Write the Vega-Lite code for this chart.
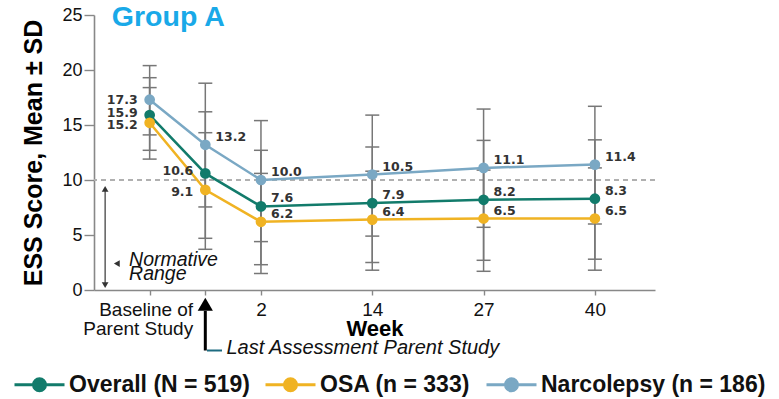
{
  "$schema": "https://vega.github.io/schema/vega-lite/v6.json",
  "width": 561,
  "height": 275,
  "autosize": {"type": "none"},
  "padding": {"left": 94, "top": 15, "right": 124, "bottom": 109},
  "background": "white",
  "config": {
    "view": {"stroke": null},
    "font": "Liberation Sans",
    "axis": {"grid": false, "domainColor": "#888", "tickColor": "#888", "domainWidth": 1.6, "tickWidth": 1.4, "labelColor": "#111", "titleColor": "#000", "labelFont": "Liberation Sans", "titleFont": "Liberation Sans"}
  },
  "data": {"values": [
    {"group": "Overall (N = 519)", "slot": 1, "mean": 15.9, "lo": 12.7, "hi": 19.3},
    {"group": "Overall (N = 519)", "slot": 2, "mean": 10.6, "lo": 4.7, "hi": 16.2},
    {"group": "Overall (N = 519)", "slot": 3, "mean": 7.6, "lo": 2.3, "hi": 12.7},
    {"group": "Overall (N = 519)", "slot": 5, "mean": 7.9, "lo": 2.5, "hi": 13.0},
    {"group": "Overall (N = 519)", "slot": 7, "mean": 8.2, "lo": 2.7, "hi": 13.6},
    {"group": "Overall (N = 519)", "slot": 9, "mean": 8.3, "lo": 2.8, "hi": 13.65},
    {"group": "OSA (n = 333)", "slot": 1, "mean": 15.2, "lo": 11.9, "hi": 18.4},
    {"group": "OSA (n = 333)", "slot": 2, "mean": 9.1, "lo": 3.7, "hi": 14.3},
    {"group": "OSA (n = 333)", "slot": 3, "mean": 6.2, "lo": 1.5, "hi": 10.6},
    {"group": "OSA (n = 333)", "slot": 5, "mean": 6.4, "lo": 1.8, "hi": 10.8},
    {"group": "OSA (n = 333)", "slot": 7, "mean": 6.5, "lo": 1.7, "hi": 10.9},
    {"group": "OSA (n = 333)", "slot": 9, "mean": 6.5, "lo": 1.8, "hi": 11.1},
    {"group": "Narcolepsy (n = 186)", "slot": 1, "mean": 17.3, "lo": 14.1, "hi": 20.4},
    {"group": "Narcolepsy (n = 186)", "slot": 2, "mean": 13.2, "lo": 7.55, "hi": 18.8},
    {"group": "Narcolepsy (n = 186)", "slot": 3, "mean": 10.0, "lo": 4.4, "hi": 15.4},
    {"group": "Narcolepsy (n = 186)", "slot": 5, "mean": 10.5, "lo": 4.9, "hi": 15.9},
    {"group": "Narcolepsy (n = 186)", "slot": 7, "mean": 11.1, "lo": 5.7, "hi": 16.45},
    {"group": "Narcolepsy (n = 186)", "slot": 9, "mean": 11.4, "lo": 6.0, "hi": 16.7}
  ]},
  "encoding": {
    "x": {
      "field": "slot", "type": "quantitative",
      "scale": {"domain": [0, 10.08], "nice": false, "zero": false},
      "axis": {
        "values": [1, 2, 3, 5, 7, 9],
        "labelExpr": "datum.value == 1 ? ['Baseline of', 'Parent Study'] : datum.value == 3 ? '2' : datum.value == 5 ? '14' : datum.value == 7 ? '27' : datum.value == 9 ? '40' : ''",
        "labelAlign": {"condition": {"test": "datum.value == 1", "value": "right"}, "value": "center"},
        "labelOffset": {"condition": {"test": "datum.value == 1", "value": 43}, "value": 0},
        "labelFontSize": 19, "labelLineHeight": 19, "labelPadding": 5, "tickSize": 5,
        "labelOverlap": false, "labelBound": false, "labelFlush": false,
        "title": "Week", "titleFontSize": 22, "titleFontWeight": "bold", "titleY": 38, "titleBaseline": "middle"
      }
    },
    "y": {
      "field": "mean", "type": "quantitative",
      "scale": {"domain": [0, 25], "nice": false, "zero": true},
      "axis": {"values": [0, 5, 10, 15, 20, 25], "labelFontSize": 18, "tickSize": 10, "labelPadding": 2, "title": "ESS Score, Mean ± SD", "titleFontSize": 25, "titleFontWeight": "bold", "titleX": -61, "titleBaseline": "middle"}
    }
  },
  "layer": [
    {
      "mark": {"type": "rule", "strokeDash": [5, 4], "color": "#b0b0b0", "strokeWidth": 1.3},
      "encoding": {"y": {"datum": 10, "type": "quantitative", "title": "ESS Score, Mean ± SD"}, "x": null}
    },
    {
      "mark": {"type": "rule", "color": "#777", "strokeWidth": 1.5},
      "encoding": {"y": {"field": "lo", "type": "quantitative", "title": "ESS Score, Mean ± SD"}, "y2": {"field": "hi"}}
    },
    {
      "mark": {"type": "tick", "orient": "horizontal", "color": "#777", "size": 14, "thickness": 1.5, "opacity": 1},
      "encoding": {"y": {"field": "lo", "type": "quantitative", "title": "ESS Score, Mean ± SD"}}
    },
    {
      "mark": {"type": "tick", "orient": "horizontal", "color": "#777", "size": 14, "thickness": 1.5, "opacity": 1},
      "encoding": {"y": {"field": "hi", "type": "quantitative", "title": "ESS Score, Mean ± SD"}}
    },
    {
      "mark": {"type": "line", "strokeWidth": 2.5},
      "encoding": {
        "color": {
          "field": "group", "type": "nominal",
          "scale": {"domain": ["Overall (N = 519)", "OSA (n = 333)", "Narcolepsy (n = 186)"], "range": ["#127b6b", "#f0b323", "#7aa8c4"]},
          "legend": {
            "orient": "none", "legendX": -81, "legendY": 343, "direction": "horizontal", "title": null,
            "symbolType": "M-1,0L1,0M0.24,0A0.24,0.24,0,1,1,-0.24,0A0.24,0.24,0,1,1,0.24,0Z",
            "symbolSize": 2500, "symbolStrokeWidth": 3, "labelFontSize": 23, "labelFontWeight": "bold", "labelFont": "Liberation Sans", "labelColor": "#111",
            "labelOffset": 3, "columnPadding": 9, "labelLimit": 400,
            "encode": {"symbols": {"update": {"fill": {"scale": "color", "field": "value"}, "stroke": {"scale": "color", "field": "value"}, "opacity": {"value": 1}}}}
          }
        },
        "order": {"field": "slot"}
      }
    },
    {
      "mark": {"type": "circle", "size": 115, "opacity": 1},
      "encoding": {"color": {"field": "group", "type": "nominal", "legend": null}}
    },
    {
      "transform": [{"filter": "datum.slot == 1 && datum.group == 'Narcolepsy (n = 186)'"}],
      "mark": {"type": "text", "align": "right", "baseline": "middle", "dx": -12, "dy": 0, "font": "DejaVu Sans", "fontWeight": "bold", "fontSize": 12.5, "color": "#333"},
      "encoding": {"text": {"field": "mean", "type": "quantitative", "format": ".1f"}}
    },
    {
      "transform": [{"filter": "datum.slot <= 2 && datum.group == 'Overall (N = 519)'"}],
      "mark": {"type": "text", "align": "right", "baseline": "middle", "dx": -12, "dy": -2, "font": "DejaVu Sans", "fontWeight": "bold", "fontSize": 12.5, "color": "#333"},
      "encoding": {"text": {"field": "mean", "type": "quantitative", "format": ".1f"}}
    },
    {
      "transform": [{"filter": "datum.slot <= 2 && datum.group == 'OSA (n = 333)'"}],
      "mark": {"type": "text", "align": "right", "baseline": "middle", "dx": -12, "dy": 2, "font": "DejaVu Sans", "fontWeight": "bold", "fontSize": 12.5, "color": "#333"},
      "encoding": {"text": {"field": "mean", "type": "quantitative", "format": ".1f"}}
    },
    {
      "transform": [{"filter": "datum.slot >= 3 || (datum.slot == 2 && datum.group == 'Narcolepsy (n = 186)')"}],
      "mark": {"type": "text", "align": "left", "baseline": "middle", "dx": 10, "dy": -8, "font": "DejaVu Sans", "fontWeight": "bold", "fontSize": 12.5, "color": "#333"},
      "encoding": {"text": {"field": "mean", "type": "quantitative", "format": ".1f"}}
    },
    {
      "data": {"values": [{"slot": 0.32, "v": 24.8, "label": "Group A"}]},
      "mark": {"type": "text", "align": "left", "baseline": "middle", "fontWeight": "bold", "fontSize": 28.5, "color": "#19a9e8"},
      "encoding": {"y": {"field": "v", "type": "quantitative", "title": "ESS Score, Mean ± SD"}, "text": {"field": "label", "type": "nominal"}}
    },
    {
      "data": {"values": [{"slot": 0.2, "v": 0.4, "v2": 9.2}]},
      "mark": {"type": "rule", "color": "#444", "strokeWidth": 1.3},
      "encoding": {"y": {"field": "v", "type": "quantitative", "title": "ESS Score, Mean ± SD"}, "y2": {"field": "v2"}}
    },
    {
      "data": {"values": [{"slot": 0.2, "v": 9.2, "shape": "triangle-up"}, {"slot": 0.2, "v": 0.45, "shape": "triangle-down"}, {"slot": 0.41, "v": 2.4, "shape": "triangle-left"}]},
      "mark": {"type": "point", "filled": true, "color": "#333", "size": 45, "opacity": 1},
      "encoding": {"y": {"field": "v", "type": "quantitative", "title": "ESS Score, Mean ± SD"}, "shape": {"field": "shape", "type": "nominal", "scale": null, "legend": null}}
    },
    {
      "data": {"values": [{"slot": 0.63, "v": 2.7, "label": ["Normative", "Range"]}]},
      "mark": {"type": "text", "align": "left", "baseline": "middle", "fontStyle": "italic", "fontSize": 19.5, "lineHeight": 14, "color": "#111"},
      "encoding": {"y": {"field": "v", "type": "quantitative", "title": "ESS Score, Mean ± SD"}, "text": {"field": "label", "type": "nominal"}}
    },
    {
      "data": {"values": [{"slot": 2, "v": -1.9, "v2": -5.5}]},
      "mark": {"type": "rule", "color": "#000", "strokeWidth": 3},
      "encoding": {"y": {"field": "v", "type": "quantitative", "title": "ESS Score, Mean ± SD"}, "y2": {"field": "v2"}}
    },
    {
      "data": {"values": [{"slot": 2, "v": -1.3}]},
      "mark": {"type": "point", "shape": "triangle-up", "filled": true, "color": "#000", "size": 230, "opacity": 1},
      "encoding": {"y": {"field": "v", "type": "quantitative", "title": "ESS Score, Mean ± SD"}}
    },
    {
      "data": {"values": [{"slot": 2.03, "slot2": 2.3, "v": -5.5}]},
      "mark": {"type": "rule", "color": "#1d6b80", "strokeWidth": 2},
      "encoding": {"x2": {"field": "slot2"}, "y": {"field": "v", "type": "quantitative", "title": "ESS Score, Mean ± SD"}}
    },
    {
      "data": {"values": [{"slot": 2.38, "v": -5.3, "label": "Last Assessment Parent Study"}]},
      "mark": {"type": "text", "align": "left", "baseline": "middle", "fontStyle": "italic", "fontSize": 20, "color": "#111"},
      "encoding": {"y": {"field": "v", "type": "quantitative", "title": "ESS Score, Mean ± SD"}, "text": {"field": "label", "type": "nominal"}}
    }
  ]
}
